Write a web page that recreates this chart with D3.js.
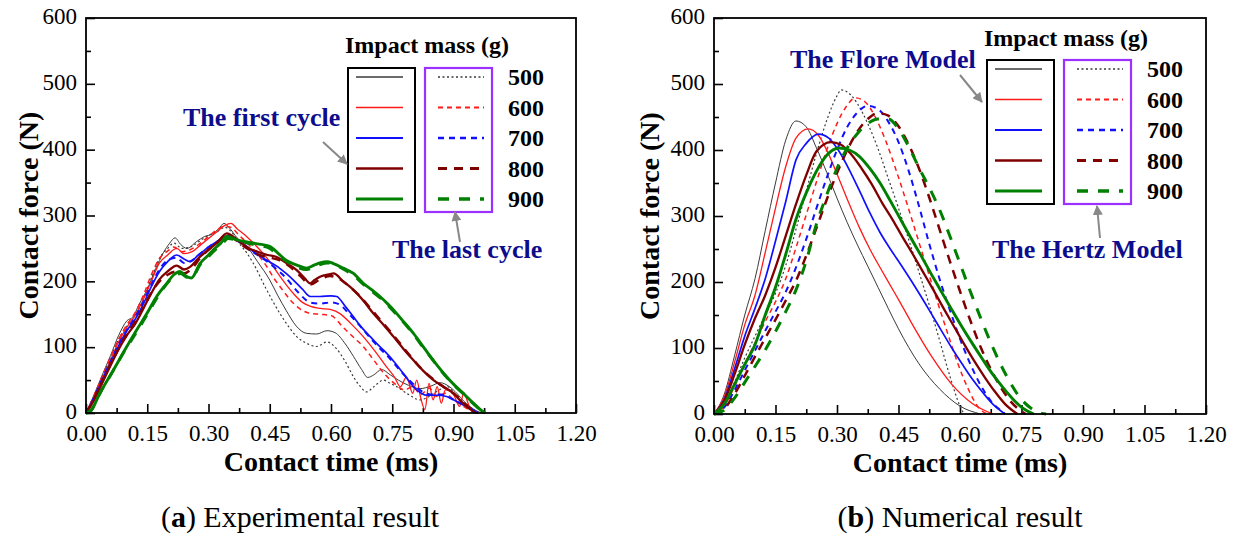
<!DOCTYPE html>
<html>
<head>
<meta charset="utf-8">
<script src="https://cdn.jsdelivr.net/npm/d3@7"></script>
<style>
  body { margin: 0; background: #fff; }
  svg { display: block; }
  text { font-family: "Liberation Serif", "Times New Roman", serif; }
</style>
</head>
<body>
<svg id="chart" width="1235" height="535"></svg>
<script>
// ---- data ----
const masses = ["500", "600", "700", "800", "900"];

const xTicks = [0, 0.15, 0.30, 0.45, 0.60, 0.75, 0.90, 1.05, 1.20];
const xMinor = [0.075, 0.225, 0.375, 0.525, 0.675, 0.825, 0.975, 1.125];
const yTicks = [0, 100, 200, 300, 400, 500, 600];
const yMinor = [50, 150, 250, 350, 450, 550];

// (a) experimental, first cycle (solid) and last cycle (dashed), [time ms, force N]
const exp500First = [[0,0],[0.02,28],[0.04,58],[0.06,87],[0.08,118],[0.1,140],[0.115,146],[0.13,165],[0.15,188],[0.17,218],[0.19,244],[0.205,258],[0.218,266],[0.232,256],[0.247,250],[0.27,260],[0.29,268],[0.31,272],[0.325,280],[0.338,288],[0.35,282],[0.37,266],[0.394,253],[0.42,230],[0.45,202],[0.47,178],[0.49,156],[0.515,132],[0.54,121],[0.565,120],[0.59,125],[0.61,122],[0.635,105],[0.655,86],[0.675,66],[0.69,54],[0.705,58],[0.724,66],[0.745,58],[0.765,50],[0.79,42],[0.818,37],[0.845,41],[0.867,46],[0.89,40],[0.908,30],[0.925,18],[0.94,10],[0.957,3],[0.97,0]];
const exp500Last = [[0,0],[0.02,24],[0.04,55],[0.06,84],[0.08,112],[0.1,132],[0.12,148],[0.14,172],[0.16,205],[0.18,235],[0.2,250],[0.215,258],[0.235,250],[0.255,252],[0.28,262],[0.3,270],[0.32,275],[0.34,282],[0.355,276],[0.375,258],[0.395,242],[0.41,227],[0.44,190],[0.475,151],[0.5,128],[0.516,116],[0.54,106],[0.565,101],[0.59,108],[0.61,100],[0.635,78],[0.655,55],[0.672,40],[0.687,32],[0.705,40],[0.728,50],[0.745,45],[0.761,40],[0.79,28],[0.818,20],[0.84,25],[0.865,35],[0.885,40],[0.905,28],[0.925,15],[0.945,6],[0.96,0]];
const exp600First = [[0,0],[0.02,25],[0.04,52],[0.06,80],[0.08,108],[0.1,130],[0.12,148],[0.14,172],[0.16,200],[0.18,228],[0.2,240],[0.222,250],[0.24,242],[0.26,245],[0.28,255],[0.3,265],[0.32,275],[0.34,285],[0.355,288],[0.37,280],[0.39,270],[0.41,258],[0.43,245],[0.45,230],[0.47,212],[0.49,195],[0.51,180],[0.53,168],[0.55,162],[0.573,159],[0.6,157],[0.622,151],[0.65,135],[0.679,116],[0.71,92],[0.736,70],[0.755,55],[0.77,40],[0.785,55],[0.8,30],[0.81,50],[0.82,22],[0.83,5],[0.84,45],[0.85,20],[0.86,40],[0.87,15],[0.88,35],[0.9,28],[0.915,10],[0.925,30],[0.94,8],[0.955,0]];
const exp600Last = [[0,0],[0.02,27],[0.04,56],[0.06,85],[0.08,112],[0.1,134],[0.12,152],[0.14,178],[0.16,210],[0.18,235],[0.2,246],[0.215,252],[0.235,245],[0.255,248],[0.28,258],[0.3,268],[0.32,278],[0.34,284],[0.355,282],[0.375,270],[0.395,258],[0.415,245],[0.44,225],[0.46,205],[0.48,188],[0.5,172],[0.52,160],[0.545,152],[0.573,150],[0.6,148],[0.63,130],[0.655,115],[0.679,101],[0.705,80],[0.73,60],[0.755,45],[0.78,35],[0.8,40],[0.82,28],[0.84,38],[0.86,25],[0.88,30],[0.9,20],[0.92,12],[0.94,4],[0.955,0]];
const exp700First = [[0,0],[0.02,22],[0.04,50],[0.06,76],[0.08,102],[0.1,125],[0.12,142],[0.14,165],[0.16,192],[0.18,215],[0.2,230],[0.222,240],[0.24,234],[0.255,230],[0.275,240],[0.3,252],[0.32,260],[0.34,268],[0.35,270],[0.37,262],[0.39,255],[0.41,245],[0.443,232],[0.47,222],[0.49,212],[0.508,202],[0.53,188],[0.549,177],[0.573,177],[0.6,178],[0.614,177],[0.635,162],[0.655,146],[0.675,130],[0.696,116],[0.716,103],[0.736,91],[0.757,76],[0.777,60],[0.795,45],[0.81,35],[0.834,27],[0.86,27],[0.883,25],[0.9,20],[0.916,15],[0.932,10],[0.948,5],[0.96,0]];
const exp700Last = [[0,0],[0.02,24],[0.04,52],[0.06,78],[0.08,104],[0.1,126],[0.12,145],[0.14,168],[0.16,195],[0.18,218],[0.2,232],[0.222,236],[0.24,228],[0.26,232],[0.28,242],[0.3,252],[0.32,260],[0.34,266],[0.355,268],[0.375,260],[0.4,248],[0.43,236],[0.46,222],[0.49,205],[0.52,183],[0.549,168],[0.573,166],[0.6,168],[0.62,165],[0.645,150],[0.67,133],[0.696,114],[0.72,98],[0.745,82],[0.77,64],[0.795,48],[0.82,34],[0.845,28],[0.87,28],[0.895,22],[0.92,14],[0.94,7],[0.958,0]];
const exp800First = [[0,0],[0.02,20],[0.04,46],[0.06,72],[0.08,97],[0.1,118],[0.12,135],[0.14,158],[0.16,182],[0.18,203],[0.2,215],[0.222,224],[0.24,218],[0.255,222],[0.275,235],[0.3,248],[0.32,258],[0.345,273],[0.36,268],[0.38,258],[0.4,250],[0.42,245],[0.445,240],[0.467,237],[0.49,228],[0.516,217],[0.535,205],[0.549,197],[0.56,202],[0.573,207],[0.598,211],[0.606,212],[0.63,200],[0.655,187],[0.68,170],[0.704,151],[0.73,133],[0.753,116],[0.778,97],[0.802,80],[0.826,64],[0.851,50],[0.875,40],[0.9,30],[0.915,20],[0.932,10],[0.945,4],[0.955,0]];
const exp800Last = [[0,0],[0.02,22],[0.04,48],[0.06,74],[0.08,98],[0.1,120],[0.12,138],[0.14,160],[0.16,183],[0.18,200],[0.2,210],[0.222,215],[0.24,212],[0.26,220],[0.28,236],[0.3,248],[0.32,258],[0.345,270],[0.36,266],[0.38,256],[0.4,248],[0.425,240],[0.45,236],[0.475,232],[0.5,222],[0.525,208],[0.549,195],[0.573,203],[0.598,208],[0.62,204],[0.645,192],[0.67,178],[0.695,160],[0.72,142],[0.745,124],[0.77,105],[0.795,86],[0.82,68],[0.845,54],[0.87,42],[0.895,32],[0.915,22],[0.935,10],[0.95,3],[0.96,0]];
const exp900First = [[0,0],[0.01,2],[0.034,30],[0.067,65],[0.1,101],[0.124,126],[0.149,151],[0.173,177],[0.198,197],[0.215,210],[0.23,215],[0.245,208],[0.258,205],[0.279,227],[0.3,240],[0.312,248],[0.33,258],[0.345,268],[0.37,263],[0.394,260],[0.42,257],[0.45,253],[0.47,243],[0.49,232],[0.515,225],[0.54,220],[0.56,225],[0.573,228],[0.59,230],[0.606,227],[0.63,220],[0.655,212],[0.679,197],[0.7,187],[0.72,177],[0.74,165],[0.761,151],[0.78,137],[0.802,121],[0.822,104],[0.843,86],[0.863,70],[0.883,55],[0.903,42],[0.924,30],[0.94,20],[0.957,10],[0.97,3],[0.978,0]];
const exp900Last = [[0,0],[0.012,4],[0.036,32],[0.068,66],[0.1,100],[0.125,124],[0.15,150],[0.175,176],[0.2,198],[0.218,208],[0.232,212],[0.248,206],[0.262,208],[0.28,226],[0.3,238],[0.315,247],[0.332,256],[0.348,265],[0.372,262],[0.396,258],[0.42,255],[0.45,250],[0.47,240],[0.492,230],[0.515,222],[0.54,218],[0.56,222],[0.575,226],[0.592,228],[0.61,225],[0.632,218],[0.657,208],[0.68,195],[0.702,184],[0.722,174],[0.742,162],[0.763,148],[0.783,134],[0.804,118],[0.824,101],[0.845,84],[0.865,68],[0.885,53],[0.905,40],[0.926,28],[0.942,18],[0.958,9],[0.97,3],[0.98,0]];

// (b) numerical, Flore model (solid) and Hertz model (dashed)
const flore500 = [[0,0],[0.025,30],[0.05,88],[0.075,150],[0.1,205],[0.125,278],[0.15,350],[0.175,415],[0.2,444],[0.225,435],[0.25,403],[0.275,366],[0.3,327],[0.325,290],[0.35,256],[0.375,224],[0.4,192],[0.425,160],[0.45,129],[0.5,76],[0.55,38],[0.6,12],[0.65,0]];
const flore600 = [[0,0],[0.025,26],[0.05,78],[0.075,135],[0.1,180],[0.125,245],[0.15,312],[0.175,375],[0.2,418],[0.23,432],[0.255,422],[0.28,393],[0.305,356],[0.33,318],[0.355,282],[0.38,250],[0.405,222],[0.43,195],[0.455,168],[0.48,140],[0.53,88],[0.58,45],[0.63,16],[0.68,0]];
const flore700 = [[0,0],[0.025,22],[0.05,68],[0.075,118],[0.1,160],[0.125,205],[0.15,262],[0.175,322],[0.2,385],[0.225,410],[0.255,424],[0.28,418],[0.305,398],[0.33,370],[0.355,338],[0.38,305],[0.405,275],[0.43,250],[0.455,227],[0.48,203],[0.505,178],[0.53,152],[0.555,126],[0.58,100],[0.605,76],[0.63,53],[0.655,33],[0.68,15],[0.71,0]];
const flore800 = [[0,0],[0.025,20],[0.05,60],[0.075,105],[0.1,145],[0.125,180],[0.15,222],[0.175,270],[0.2,318],[0.225,362],[0.25,398],[0.285,412],[0.31,408],[0.335,393],[0.36,372],[0.385,348],[0.41,320],[0.435,295],[0.46,268],[0.485,242],[0.51,215],[0.535,188],[0.56,160],[0.585,133],[0.61,106],[0.635,80],[0.66,56],[0.685,34],[0.71,15],[0.74,0]];
const flore900 = [[0,0],[0.025,15],[0.05,45],[0.075,75],[0.1,105],[0.125,150],[0.15,192],[0.175,242],[0.2,295],[0.225,335],[0.25,368],[0.275,392],[0.305,403],[0.33,400],[0.355,390],[0.38,372],[0.405,350],[0.43,323],[0.455,295],[0.48,267],[0.505,240],[0.53,212],[0.555,185],[0.58,158],[0.605,132],[0.63,107],[0.655,83],[0.68,60],[0.705,40],[0.73,22],[0.755,8],[0.78,0]];
const hertz500 = [[0,0],[0.025,15],[0.05,48],[0.075,85],[0.1,118],[0.125,150],[0.15,183],[0.175,225],[0.2,280],[0.225,338],[0.25,395],[0.275,445],[0.3,482],[0.31,491],[0.325,488],[0.35,470],[0.375,440],[0.4,402],[0.425,357],[0.45,312],[0.475,264],[0.5,215],[0.525,165],[0.55,112],[0.575,58],[0.6,12],[0.61,0]];
const hertz600 = [[0,0],[0.025,12],[0.05,42],[0.075,76],[0.1,108],[0.125,140],[0.15,170],[0.175,205],[0.2,252],[0.225,302],[0.25,352],[0.275,400],[0.3,440],[0.325,468],[0.345,479],[0.37,472],[0.395,448],[0.42,412],[0.445,368],[0.47,320],[0.495,270],[0.52,220],[0.545,170],[0.57,122],[0.595,76],[0.62,38],[0.645,10],[0.665,0]];
const hertz700 = [[0,0],[0.025,10],[0.05,36],[0.075,66],[0.1,96],[0.125,126],[0.15,155],[0.175,185],[0.2,222],[0.225,265],[0.25,312],[0.275,358],[0.3,400],[0.325,435],[0.35,457],[0.375,467],[0.4,462],[0.425,443],[0.45,412],[0.475,368],[0.5,315],[0.525,258],[0.55,205],[0.575,158],[0.6,114],[0.625,76],[0.65,44],[0.675,20],[0.7,5],[0.71,0]];
const hertz800 = [[0,0],[0.025,8],[0.05,30],[0.075,58],[0.1,87],[0.125,115],[0.15,143],[0.175,172],[0.2,202],[0.225,240],[0.25,282],[0.275,325],[0.3,365],[0.325,400],[0.35,428],[0.375,447],[0.4,456],[0.425,452],[0.45,436],[0.475,408],[0.5,372],[0.525,328],[0.55,280],[0.575,232],[0.6,186],[0.625,142],[0.65,102],[0.675,68],[0.7,40],[0.725,18],[0.75,4],[0.76,0]];
const hertz900 = [[0,0],[0.025,6],[0.05,24],[0.075,48],[0.1,72],[0.125,97],[0.15,125],[0.175,155],[0.2,188],[0.225,232],[0.25,288],[0.275,332],[0.3,372],[0.325,403],[0.35,425],[0.375,440],[0.4,447],[0.425,447],[0.45,432],[0.475,405],[0.5,373],[0.525,343],[0.55,310],[0.575,270],[0.6,228],[0.625,186],[0.65,146],[0.675,108],[0.7,74],[0.725,45],[0.75,22],[0.775,8],[0.8,1],[0.81,0]];

// ---- styles ----
const colors = ["#3a3a3a", "#ff1a1a", "#1010ff", "#800000", "#008000"];
const solidWidth = [1, 1.3, 1.7, 2.3, 2.9];
const dashWidth = [1.2, 1.5, 2, 2.5, 3];
const dashes = ["2,2.5", "5,4", "6,5", "9,7", "11,10"];
const noteColor = "#0c0c8c";
const arrowGray = "#888";

const svg = d3.select("#chart");

svg.append("defs").append("marker")
  .attr("id", "head")
  .attr("viewBox", "0 0 10 10")
  .attr("refX", 9).attr("refY", 5)
  .attr("markerWidth", 5).attr("markerHeight", 5)
  .attr("markerUnits", "strokeWidth")
  .attr("orient", "auto")
  .append("path").attr("d", "M0,0 L10,5 L0,10 z").attr("fill", arrowGray);

/**
 * draws one framed panel with axes, curves and legend
 */
function drawPanel(cfg) {
  const g = svg.append("g").attr("transform", `translate(${cfg.left},${cfg.top})`);
  const x = d3.scaleLinear().domain([0, 1.2]).range([0, cfg.w]);
  const y = d3.scaleLinear().domain([0, 600]).range([cfg.h, 0]);

  // ticks point inwards
  g.append("g").attr("transform", `translate(0,${cfg.h})`)
    .call(d3.axisBottom(x).tickValues(xTicks).tickFormat(d3.format(".2f")).tickSize(-9).tickPadding(12))
    .call(a => a.select(".domain").remove());
  g.append("g").attr("transform", `translate(0,${cfg.h})`)
    .call(d3.axisBottom(x).tickValues(xMinor).tickFormat("").tickSize(-5))
    .call(a => a.select(".domain").remove());
  g.append("g")
    .call(d3.axisLeft(y).tickValues(yTicks).tickSize(-9).tickPadding(9))
    .call(a => a.select(".domain").remove())
    .call(a => a.selectAll("text").attr("dy", "0.25em"));
  g.append("g")
    .call(d3.axisLeft(y).tickValues(yMinor).tickFormat("").tickSize(-5))
    .call(a => a.select(".domain").remove());
  g.selectAll(".tick line").attr("stroke", "#000").attr("stroke-width", 1.6);
  g.selectAll(".tick text").attr("font-size", 23).attr("fill", "#000")
    .style("font-family", '"Liberation Serif", serif');

  const line = d3.line().x(d => x(d[0])).y(d => y(d[1])).curve(d3.curveMonotoneX);

  const curves = g.append("g");
  cfg.solid.forEach((s, i) => {
    curves.append("path").datum(s).attr("d", line)
      .attr("fill", "none").attr("stroke", colors[i]).attr("stroke-width", solidWidth[i]);
    curves.append("path").datum(cfg.dashed[i]).attr("d", line)
      .attr("fill", "none").attr("stroke", colors[i]).attr("stroke-width", dashWidth[i])
      .attr("stroke-dasharray", dashes[i]);
  });

  g.append("rect").attr("width", cfg.w).attr("height", cfg.h)
    .attr("fill", "none").attr("stroke", "#000").attr("stroke-width", 1.8);

  // axis titles
  g.append("text").attr("x", cfg.w / 2).attr("y", cfg.h + 58)
    .attr("text-anchor", "middle").attr("font-size", 28).attr("font-weight", "bold")
    .text("Contact time (ms)");
  g.append("text").attr("transform", `translate(${cfg.yTitleX},${cfg.h / 2}) rotate(-90)`)
    .attr("text-anchor", "middle").attr("font-size", 28).attr("font-weight", "bold")
    .text("Contact force (N)");

  // legend
  const L = cfg.legend;
  const leg = g.append("g").attr("transform", `translate(${L.x},${L.y})`);
  leg.append("text").attr("x", -3).attr("y", -L.titleGap).attr("font-size", 24)
    .attr("font-weight", "bold").text("Impact mass (g)");
  leg.append("rect").attr("x", 0).attr("y", 0).attr("width", 67).attr("height", 144)
    .attr("fill", "none").attr("stroke", "#000").attr("stroke-width", 2);
  leg.append("rect").attr("x", 77).attr("y", 0).attr("width", 67).attr("height", 144)
    .attr("fill", "none").attr("stroke", "#9b30ff").attr("stroke-width", 2.2);
  masses.forEach((m, i) => {
    const ry = 9 + i * 30.5;
    leg.append("line").attr("x1", 8).attr("x2", 55).attr("y1", ry).attr("y2", ry)
      .attr("stroke", colors[i]).attr("stroke-width", solidWidth[i] + 0.3);
    leg.append("line").attr("x1", 90).attr("x2", 136).attr("y1", ry).attr("y2", ry)
      .attr("stroke", colors[i]).attr("stroke-width", dashWidth[i] + 0.3)
      .attr("stroke-dasharray", dashes[i]);
    leg.append("text").attr("x", 160).attr("y", ry).attr("dy", "0.35em")
      .attr("font-size", 24).attr("font-weight", "bold").text(m);
  });

  // notes with arrows
  cfg.notes.forEach(n => {
    g.append("text").attr("x", n.tx).attr("y", n.ty).attr("font-size", 26)
      .attr("font-weight", "bold").attr("fill", noteColor).text(n.text);
    g.append("line").attr("x1", n.a[0]).attr("y1", n.a[1]).attr("x2", n.a[2]).attr("y2", n.a[3])
      .attr("stroke", arrowGray).attr("stroke-width", 2).attr("marker-end", "url(#head)");
  });

  // caption
  const cap = svg.append("text").attr("x", cfg.left + cfg.w / 2 - cfg.capShift).attr("y", 527)
    .attr("text-anchor", "middle").attr("font-size", 30);
  cap.append("tspan").text("(");
  cap.append("tspan").attr("font-weight", "bold").text(cfg.capLetter);
  cap.append("tspan").text(") " + cfg.caption);
}

drawPanel({
  left: 86, top: 18, w: 490, h: 395, yTitleX: -48,
  solid: [exp500First, exp600First, exp700First, exp800First, exp900First],
  dashed: [exp500Last, exp600Last, exp700Last, exp800Last, exp900Last],
  legend: { x: 262, y: 50, titleGap: 15 },
  notes: [
    { text: "The first cycle", tx: 97, ty: 108, a: [237, 124, 261, 146] },
    { text: "The last cycle", tx: 306, ty: 240, a: [374, 224, 369, 194] }
  ],
  capLetter: "a", caption: "Experimental result", capShift: 31
});

drawPanel({
  left: 714, top: 18, w: 492, h: 396, yTitleX: -55,
  solid: [flore500, flore600, flore700, flore800, flore900],
  dashed: [hertz500, hertz600, hertz700, hertz800, hertz900],
  legend: { x: 273, y: 42, titleGap: 14 },
  notes: [
    { text: "The Flore Model", tx: 76, ty: 50, a: [246, 57, 268, 84] },
    { text: "The Hertz Model", tx: 278, ty: 240, a: [386, 220, 383, 188] }
  ],
  capLetter: "b", caption: "Numerical result", capShift: 0
});
</script>
</body>
</html>
